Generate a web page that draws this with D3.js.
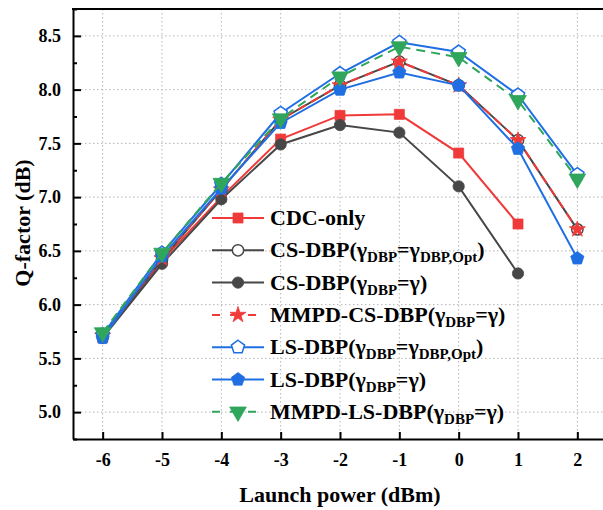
<!DOCTYPE html>
<html>
<head>
<meta charset="utf-8">
<script src="https://cdn.jsdelivr.net/npm/d3@7"></script>
<style>
  body { margin: 0; background: #fff; }
  text { font-family: "Liberation Serif", "Times New Roman", serif; font-weight: bold; }
  .grid line { stroke: #b5b5b5; stroke-dasharray: 1.5,2.5; stroke-width: 1; }
</style>
</head>
<body>
<svg width="603" height="510"></svg>
<script>
var powers = [-6, -5, -4, -3, -2, -1, 0, 1, 2];
var yTicks = [5.0, 5.5, 6.0, 6.5, 7.0, 7.5, 8.0, 8.5];

var cdcOnly   = [5.70, 6.41, 7.00, 7.54, 7.76, 7.77, 7.41, 6.75];
var csOpt     = [5.71, 6.42, 7.07, 7.72, 8.04, 8.26, 8.04, 7.53, 6.70];
var csGamma   = [5.69, 6.38, 6.98, 7.49, 7.67, 7.60, 7.10, 6.29];
var mmpdCs    = [5.71, 6.43, 7.07, 7.72, 8.04, 8.26, 8.04, 7.53, 6.70];
var lsOpt     = [5.72, 6.48, 7.12, 7.78, 8.15, 8.44, 8.35, 7.95, 7.21];
var lsGamma   = [5.69, 6.45, 7.08, 7.69, 8.00, 8.16, 8.04, 7.45, 6.43];
var mmpdLs    = [5.74, 6.48, 7.13, 7.73, 8.12, 8.40, 8.30, 7.90, 7.17];

var red = '#F03A3A', gray = '#474747', blue = '#1F6FE3', green = '#2FA65B';

var series = [
  {name: ['CDC-only'], vals: cdcOnly, color: red, mark: 'square', fill: true, dash: null},
  {name: ['CS-DBP(γ', 'DBP', '=γ', 'DBP,Opt', ')'], vals: csOpt, color: gray, mark: 'circle', fill: false, dash: null},
  {name: ['CS-DBP(γ', 'DBP', '=γ)'], vals: csGamma, color: gray, mark: 'circle', fill: true, dash: null},
  {name: ['MMPD-CS-DBP(γ', 'DBP', '=γ)'], vals: mmpdCs, color: red, mark: 'star', fill: true, dash: '9,6'},
  {name: ['LS-DBP(γ', 'DBP', '=γ', 'DBP,Opt', ')'], vals: lsOpt, color: blue, mark: 'pentagon', fill: false, dash: null},
  {name: ['LS-DBP(γ', 'DBP', '=γ)'], vals: lsGamma, color: blue, mark: 'pentagon', fill: true, dash: null},
  {name: ['MMPD-LS-DBP(γ', 'DBP', '=γ)'], vals: mmpdLs, color: green, mark: 'triangle', fill: true, dash: '9,6'}
];

var svg = d3.select('svg');
var pLeft = 73, pRight = 607, pTop = 9, pBottom = 439;

var x = d3.scaleLinear().domain([-6.5, 2.5]).range([pLeft, pRight]);
var y = d3.scaleLinear().domain([4.75, 8.75]).range([pBottom, pTop]);

// grid
var grid = svg.append('g').attr('class', 'grid');
grid.selectAll('line.gx').data(powers).enter().append('line')
  .attr('x1', d => x(d)).attr('x2', d => x(d)).attr('y1', pTop).attr('y2', pBottom);
grid.selectAll('line.gy').data(yTicks).enter().append('line')
  .attr('x1', pLeft).attr('x2', pRight).attr('y1', d => y(d)).attr('y2', d => y(d));

var pentagon = {
  draw: function(ctx, size) {
    var r = Math.sqrt(size / 2.378);
    for (var i = 0; i < 5; i++) {
      var a = -Math.PI / 2 + i * 2 * Math.PI / 5;
      if (i === 0) ctx.moveTo(r * Math.cos(a), r * Math.sin(a));
      else ctx.lineTo(r * Math.cos(a), r * Math.sin(a));
    }
    ctx.closePath();
  }
};

function symbolPath(mark) {
  if (mark === 'square') return d3.symbol(d3.symbolSquare, 100)();
  if (mark === 'circle') return d3.symbol(d3.symbolCircle, 100)();
  if (mark === 'star') return d3.symbol(d3.symbolStar, 80)();
  if (mark === 'pentagon') return d3.symbol(pentagon, 115)();
  return d3.symbol(d3.symbolTriangle, 120)();
}

var line = d3.line().x((d, i) => x(powers[i])).y(d => y(d));

series.forEach(function(s) {
  var g = svg.append('g');
  g.append('path')
    .datum(s.vals)
    .attr('d', line)
    .attr('fill', 'none')
    .attr('stroke', s.color)
    .attr('stroke-width', 2)
    .attr('stroke-dasharray', s.dash);
  g.selectAll('path.m')
    .data(s.vals)
    .enter()
    .append('path')
      .attr('class', 'm')
      .attr('d', symbolPath(s.mark))
      .attr('transform', (d, i) => 'translate(' + x(powers[i]) + ',' + y(d) + ')' + (s.mark === 'triangle' ? ' rotate(180)' : ''))
      .attr('fill', s.fill ? s.color : '#fff')
      .attr('stroke', s.color)
      .attr('stroke-width', s.fill ? 0.8 : 1.5);
});

// axes
var xAxis = d3.axisBottom(x).tickValues(powers).tickSizeInner(-7).tickSizeOuter(0).tickPadding(14).tickFormat(d => String(d));
var gx = svg.append('g').attr('transform', 'translate(0,' + pBottom + ')').call(xAxis);
var yAxis = d3.axisLeft(y).tickValues(yTicks).tickSizeInner(-8).tickSizeOuter(0).tickPadding(12).tickFormat(d3.format('.1f'));
var gy = svg.append('g').attr('transform', 'translate(' + pLeft + ',0)').call(yAxis);
var yMinor = d3.axisLeft(y).tickValues(d3.range(4.75, 8.76, 0.5)).tickSize(-4).tickFormat('');
svg.append('g').attr('transform', 'translate(' + pLeft + ',0)').call(yMinor).select('.domain').remove();

[gx, gy].forEach(function(g) {
  g.select('.domain').attr('stroke', '#000').attr('stroke-width', 2);
  g.selectAll('.tick text').attr('fill', '#000').style('font-size', '18px');
});
svg.selectAll('.tick line').attr('stroke', '#000').attr('stroke-width', 2);
svg.append('line').attr('x1', pLeft - 1).attr('x2', pRight).attr('y1', pTop).attr('y2', pTop)
  .attr('stroke', '#000').attr('stroke-width', 2);

svg.append('text')
  .attr('transform', 'translate(30,' + ((pTop + pBottom) / 2 - 1) + ') rotate(-90)')
  .attr('text-anchor', 'middle')
  .style('font-size', '22px')
  .text('Q-factor (dB)');
svg.append('text')
  .attr('x', 340).attr('y', 502)
  .attr('text-anchor', 'middle')
  .style('font-size', '22px')
  .text('Launch power (dBm)');

// legend
var legend = svg.append('g');
series.forEach(function(s, i) {
  var ly = 218 + i * 32.3;
  var g = legend.append('g').attr('transform', 'translate(0,' + ly + ')');
  g.append('line')
    .attr('x1', 212).attr('x2', 264).attr('y1', 0).attr('y2', 0)
    .attr('stroke', s.color).attr('stroke-width', 2)
    .attr('stroke-dasharray', s.dash ? '8,10' : null);
  g.append('path')
    .attr('d', symbolPath(s.mark))
    .attr('transform', 'translate(238,0)' + (s.mark === 'triangle' ? ' rotate(180)' : ''))
    .attr('fill', s.fill ? s.color : '#fff')
    .attr('stroke', s.color)
    .attr('stroke-width', s.fill ? 0.8 : 1.5);
  var t = g.append('text').attr('x', 270).attr('y', 7).style('font-size', '22px').attr('fill', '#000');
  s.name.forEach(function(part, k) {
    var sub = k % 2 === 1;
    t.append('tspan')
      .attr('dy', sub ? 5 : (k > 0 ? -5 : 0))
      .style('font-size', sub ? '15px' : '22px')
      .text(part);
  });
});
</script>
</body>
</html>
